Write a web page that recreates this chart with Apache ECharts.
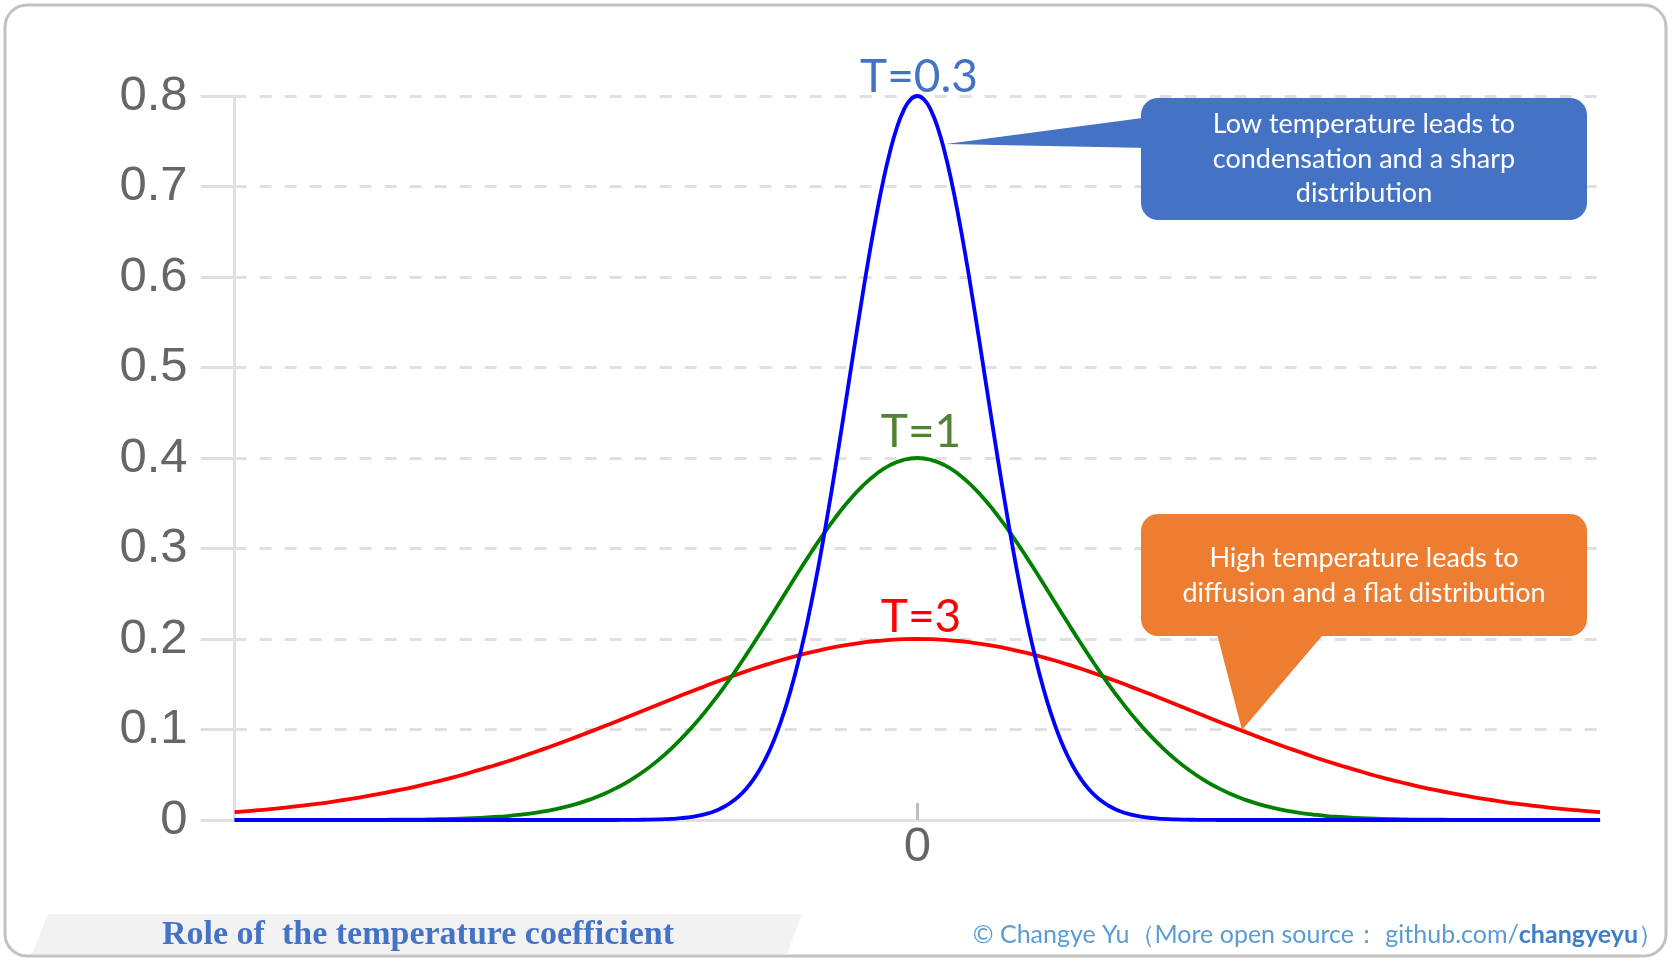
<!DOCTYPE html>
<html><head><meta charset="utf-8">
<script src="https://cdn.jsdelivr.net/npm/echarts@6/dist/echarts.min.js"></script>
<style>html,body{margin:0;padding:0;background:#fff}#c{width:1672px;height:961px}</style>
</head><body><div id="c"></div>
<script>
// x positions (standardised units, 0 = centre) for T=3 and T=1
const xValues = [-5,-4.9,-4.8,-4.7,-4.6,-4.5,-4.4,-4.3,-4.2,-4.1,-4,-3.9,-3.8,-3.7,-3.6,-3.5,-3.4,-3.3,-3.2,-3.1,-3,-2.9,-2.8,-2.7,-2.6,-2.5,-2.4,-2.3,-2.2,-2.1,-2,-1.9,-1.8,-1.7,-1.6,-1.5,-1.4,-1.3,-1.2,-1.1,-1,-0.9,-0.8,-0.7,-0.6,-0.5,-0.4,-0.3,-0.2,-0.1,0,0.1,0.2,0.3,0.4,0.5,0.6,0.7,0.8,0.9,1,1.1,1.2,1.3,1.4,1.5,1.6,1.7,1.8,1.9,2,2.1,2.2,2.3,2.4,2.5,2.6,2.7,2.8,2.9,3,3.1,3.2,3.3,3.4,3.5,3.6,3.7,3.8,3.9,4,4.1,4.2,4.3,4.4,4.5,4.6,4.7,4.8,4.9,5];
// T = 3 (red, flat)
const redT3 = [0.0088,0.0099,0.0112,0.0126,0.0142,0.0159,0.0178,0.0198,0.0221,0.0245,0.0271,0.0299,0.0329,0.0361,0.0396,0.0433,0.0471,0.0513,0.0556,0.0602,0.0649,0.0699,0.0751,0.0804,0.0859,0.0916,0.0974,0.1032,0.1092,0.1153,0.1213,0.1274,0.1334,0.1394,0.1452,0.1510,0.1565,0.1619,0.1671,0.1719,0.1765,0.1807,0.1846,0.1881,0.1912,0.1938,0.1960,0.1978,0.1990,0.1998,
  0.2,0.1998,0.1990,0.1978,0.1960,0.1938,0.1912,0.1881,0.1846,0.1807,0.1765,0.1719,0.1671,0.1619,0.1565,0.1510,0.1452,0.1394,0.1334,0.1274,0.1213,0.1153,0.1092,0.1032,0.0974,0.0916,0.0859,0.0804,0.0751,0.0699,0.0649,0.0602,0.0556,0.0513,0.0471,0.0433,0.0396,0.0361,0.0329,0.0299,0.0271,0.0245,0.0221,0.0198,0.0178,0.0159,0.0142,0.0126,0.0112,0.0099,0.0088];
// T = 1 (green)
const greenT1 = [0,0,0,0,0,0,0,0,0.0001,0.0001,0.0001,0.0002,0.0003,0.0004,0.0006,0.0009,0.0012,0.0017,0.0024,0.0033,0.0044,0.0060,0.0079,0.0104,0.0136,0.0176,0.0225,0.0284,0.0356,0.0441,0.0541,0.0658,0.0792,0.0943,0.1112,0.1299,0.1501,0.1718,0.1947,0.2184,0.2426,0.2668,0.2905,0.3131,0.3341,0.3530,0.3692,0.3824,0.3921,0.3980,
  0.4,0.3980,0.3921,0.3824,0.3692,0.3530,0.3341,0.3131,0.2905,0.2668,0.2426,0.2184,0.1947,0.1718,0.1501,0.1299,0.1112,0.0943,0.0792,0.0658,0.0541,0.0441,0.0356,0.0284,0.0225,0.0176,0.0136,0.0104,0.0079,0.0060,0.0044,0.0033,0.0024,0.0017,0.0012,0.0009,0.0006,0.0004,0.0003,0.0002,0.0001,0.0001,0.0001,0,0,0,0,0,0,0,0];
// x positions for T = 0.3 (denser near the sharp peak)
const blueX = [-5,-4,-3,-2.5,-2.2,-2.15,-2.1,-2.05,-2,-1.95,-1.9,-1.85,-1.8,-1.75,-1.7,-1.65,-1.6,-1.55,-1.5,-1.45,-1.4,-1.35,-1.3,-1.25,-1.2,-1.15,-1.1,-1.05,-1,-0.95,-0.9,-0.85,-0.8,-0.75,-0.7,-0.65,-0.6,-0.55,-0.5,-0.45,-0.4,-0.35,-0.3,-0.25,-0.2,-0.15,-0.1,-0.05,
  0,0.05,0.1,0.15,0.2,0.25,0.3,0.35,0.4,0.45,0.5,0.55,0.6,0.65,0.7,0.75,0.8,0.85,0.9,0.95,1,1.05,1.1,1.15,1.2,1.25,1.3,1.35,1.4,1.45,1.5,1.55,1.6,1.65,1.7,1.75,1.8,1.85,1.9,1.95,2,2.05,2.1,2.15,2.2,2.5,3,4,5];
// T = 0.3 (blue, sharp)
const blueT03 = [0,0,0,0,0,0.0001,0.0001,0.0002,0.0003,0.0004,0.0006,0.0009,0.0012,0.0018,0.0025,0.0035,0.0048,0.0066,0.0089,0.0119,0.0159,0.0209,0.0272,0.0352,0.0449,0.0568,0.0711,0.0882,0.1083,0.1316,0.1583,0.1886,0.2224,0.2597,0.3002,0.3436,0.3894,0.4369,0.4852,0.5336,0.5809,0.6262,0.6682,0.7060,0.7385,0.7648,0.7842,0.7960,
  0.8,0.7960,0.7842,0.7648,0.7385,0.7060,0.6682,0.6262,0.5809,0.5336,0.4852,0.4369,0.3894,0.3436,0.3002,0.2597,0.2224,0.1886,0.1583,0.1316,0.1083,0.0882,0.0711,0.0568,0.0449,0.0352,0.0272,0.0209,0.0159,0.0119,0.0089,0.0066,0.0048,0.0035,0.0025,0.0018,0.0012,0.0009,0.0006,0.0004,0.0003,0.0002,0.0001,0.0001,0,0,0,0,0];
const seriesNames = ['T=3', 'T=1', 'T=0.3'];
const xTickValues = [0];
const yMin = 0, yMax = 0.8, yStep = 0.1;

function pairs(xs, ys) { return xs.map((x, i) => [x, ys[i]]); }

const chart = echarts.init(document.getElementById('c'));
const sans = 'Liberation Sans, Arial, sans-serif';
const cal = 'Lato, Open Sans, sans-serif';

function lineSeries(name, xs, ys, color, z) {
  return { name: name, type: 'line', data: pairs(xs, ys), smooth: true, showSymbol: false,
           lineStyle: { color: color, width: 3.8 }, z: z };
}

const option = {
  animation: false,
  backgroundColor: '#ffffff',
  grid: { left: 234.6, right: 72, top: 96, bottom: 141 },
  xAxis: {
    type: 'value', min: -5, max: 5,
    axisLine: { show: true, onZero: false, lineStyle: { color: '#e0e0e0', width: 3 } },
    axisTick: { show: true, customValues: xTickValues, inside: true, length: 17, lineStyle: { color: '#bdbdbd', width: 3 } },
    axisLabel: { customValues: xTickValues, fontSize: 49, color: '#666', margin: 3, fontFamily: sans },
    splitLine: { show: false }
  },
  yAxis: {
    type: 'value', min: yMin, max: yMax, interval: yStep,
    axisLine: { show: true, onZero: false, lineStyle: { color: '#e0e0e0', width: 3 } },
    axisTick: { show: true, length: 34, lineStyle: { color: '#e0e0e0', width: 3 } },
    axisLabel: { fontSize: 49, color: '#666', margin: 47, fontFamily: sans },
    splitLine: { show: true, lineStyle: { color: '#e0e0e0', width: 3, type: [12, 13] } }
  },
  series: [
    lineSeries(seriesNames[0], xValues, redT3, '#ff0000', 3),
    lineSeries(seriesNames[1], xValues, greenT1, '#008000', 4),
    lineSeries(seriesNames[2], blueX, blueT03, '#0000ff', 5)
  ],
  graphic: [
    { type: 'rect', shape: { x: 5, y: 5, width: 1661, height: 951, r: 22 }, style: { fill: 'none', stroke: '#c2c2c2', lineWidth: 3 }, z: 0 },
    { type: 'polygon', shape: { points: [[48, 914], [802, 914], [787, 954], [32, 954]] }, style: { fill: '#f2f2f2' }, z: 1 },
    { type: 'text', x: 418, y: 935, style: { text: 'Role of  the temperature coefficient', fill: '#4472c4', font: 'bold 34px "Liberation Serif", serif', align: 'center', verticalAlign: 'middle' }, z: 2 },
    { type: 'text', x: 1663, y: 935, style: {
        text: '{n|© Changye Yu（More open source： github.com/}{b|changyeyu}{n|）}',
        align: 'right', verticalAlign: 'middle',
        rich: {
          n: { fill: '#5b9bd5', fontSize: 25, fontFamily: cal },
          b: { fill: '#3f7fc6', fontSize: 25, fontFamily: cal, fontWeight: 'bold' }
        } }, z: 2 },
    { type: 'text', x: 919, y: 77, style: { text: 'T=0.3', fill: '#4472c4', font: '46px ' + cal, align: 'center', verticalAlign: 'middle' }, z: 10 },
    { type: 'text', x: 921, y: 432, style: { text: 'T=1', fill: '#548235', font: '46px ' + cal, align: 'center', verticalAlign: 'middle' }, z: 10 },
    { type: 'text', x: 921, y: 617, style: { text: 'T=3', fill: '#ff0000', font: '46px ' + cal, align: 'center', verticalAlign: 'middle' }, z: 10 },
    { type: 'polygon', shape: { points: [[946, 144], [1150, 117], [1150, 148]] }, style: { fill: '#4472c4' }, z: 10 },
    { type: 'rect', shape: { x: 1141, y: 98, width: 446, height: 122, r: 17 }, style: { fill: '#4472c4' }, z: 10 },
    { type: 'text', x: 1364, y: 159, style: { text: 'Low temperature leads to\ncondensation and a sharp\ndistribution', fill: '#ffffff', font: '27px ' + cal, lineHeight: 34.5, align: 'center', verticalAlign: 'middle' }, z: 11 },
    { type: 'polygon', shape: { points: [[1216, 630], [1327, 630], [1242, 730]] }, style: { fill: '#ed7d31' }, z: 10 },
    { type: 'rect', shape: { x: 1141, y: 514, width: 446, height: 122, r: 17 }, style: { fill: '#ed7d31' }, z: 10 },
    { type: 'text', x: 1364, y: 576, style: { text: 'High temperature leads to\ndiffusion and a flat distribution', fill: '#ffffff', font: '27px ' + cal, lineHeight: 35, align: 'center', verticalAlign: 'middle' }, z: 11 }
  ]
};
chart.setOption(option);
</script>
</body></html>
